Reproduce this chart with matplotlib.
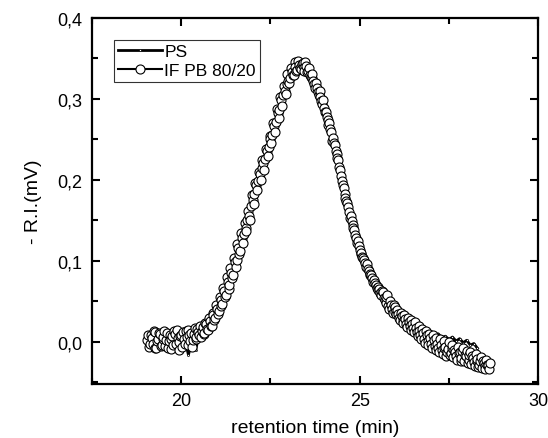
import matplotlib
matplotlib.use('Agg')
import matplotlib.pyplot as plt
from matplotlib.ticker import FuncFormatter, MultipleLocator

plt.rcParams['font.family'] = ['Liberation Sans', 'DejaVu Sans']

# PS trace (retention time in min, -R.I. in mV)
ps_time = [19.1, 19.2, 19.3, 19.4, 19.5, 19.6, 19.7, 19.8, 19.9, 20.0,
           20.1, 20.2, 20.3, 20.4, 20.5, 20.6, 20.7, 20.8, 20.9, 21.0,
           21.1, 21.2, 21.3, 21.4, 21.5, 21.6, 21.7, 21.8, 21.9, 22.0,
           22.1, 22.2, 22.3, 22.4, 22.5, 22.6, 22.7, 22.8, 22.9, 23.0,
           23.1, 23.2, 23.3, 23.4, 23.5, 23.6, 23.7, 23.8, 23.9, 24.0,
           24.1, 24.2, 24.3, 24.4, 24.5, 24.6, 24.7, 24.8, 24.9, 25.0,
           25.1, 25.2, 25.3, 25.4, 25.5, 25.6, 25.7, 25.8, 25.9, 26.0,
           26.1, 26.2, 26.3, 26.4, 26.5, 26.6, 26.7, 26.8, 26.9, 27.0,
           27.1, 27.2, 27.3, 27.4, 27.5, 27.6, 27.7, 27.8, 27.9, 28.0,
           28.1, 28.2, 28.3]
ps_ri = [0.000, -0.004, 0.002, -0.006, 0.003, -0.002, 0.004, -0.003, 0.002, -0.005,
         0.003, -0.016, 0.000, -0.010, 0.008, 0.012, 0.018, 0.024, 0.031, 0.040,
         0.050, 0.061, 0.073, 0.086, 0.099, 0.113, 0.127, 0.143, 0.160, 0.177,
         0.193, 0.207, 0.222, 0.237, 0.251, 0.266, 0.282, 0.298, 0.312, 0.322,
         0.330, 0.336, 0.339, 0.340, 0.337, 0.331, 0.323, 0.313, 0.302, 0.290,
         0.275, 0.258, 0.238, 0.217, 0.197, 0.178, 0.160, 0.144, 0.129, 0.116,
         0.105, 0.096, 0.087, 0.079, 0.071, 0.064, 0.058, 0.054, 0.048, 0.042,
         0.037, 0.033, 0.030, 0.026, 0.024, 0.021, 0.017, 0.015, 0.011, 0.012,
         0.008, 0.010, 0.005, 0.007, 0.003, 0.006, 0.001, 0.004, -0.001, 0.002,
         -0.004, -0.002, -0.008]

# IF PB 80/20 trace, first set of readings
if_time_a = [19.05, 19.10, 19.15, 19.20, 19.25, 19.30, 19.35, 19.40, 19.45, 19.50,
             19.55, 19.60, 19.65, 19.70, 19.75, 19.80, 19.85, 19.90, 19.95, 20.00,
             20.05, 20.10, 20.15, 20.20, 20.25, 20.30, 20.35, 20.40, 20.45, 20.50,
             20.55, 20.60, 20.65, 20.70, 20.75, 20.80, 20.85, 20.90, 20.95, 21.00,
             21.05, 21.10, 21.15, 21.20, 21.25, 21.30, 21.35, 21.40, 21.45, 21.50,
             21.55, 21.60, 21.65, 21.70, 21.75, 21.80, 21.85, 21.90, 21.95, 22.00,
             22.05, 22.10, 22.15, 22.20, 22.25, 22.30, 22.35, 22.40, 22.45, 22.50,
             22.55, 22.60, 22.65, 22.70, 22.75, 22.80, 22.85, 22.90, 22.95, 23.00,
             23.05, 23.10, 23.15, 23.20, 23.25, 23.30, 23.35, 23.40, 23.45, 23.50,
             23.55, 23.60, 23.65, 23.70, 23.75, 23.80, 23.85, 23.90, 23.95, 24.00,
             24.05, 24.10, 24.15, 24.20, 24.25, 24.30, 24.35, 24.40, 24.45, 24.50,
             24.55, 24.60, 24.65, 24.70, 24.75, 24.80, 24.85, 24.90, 24.95, 25.00,
             25.05, 25.10, 25.15, 25.20, 25.25, 25.30, 25.35, 25.40, 25.45, 25.50,
             25.55, 25.60, 25.65, 25.70, 25.75, 25.80, 25.85, 25.90, 25.95, 26.00,
             26.05, 26.10, 26.15, 26.20, 26.25, 26.30, 26.35, 26.40, 26.45, 26.50,
             26.55, 26.60, 26.65, 26.70, 26.75, 26.80, 26.85, 26.90, 26.95, 27.00,
             27.05, 27.10, 27.15, 27.20, 27.25, 27.30, 27.35, 27.40, 27.45, 27.50,
             27.55, 27.60, 27.65, 27.70, 27.75, 27.80, 27.85, 27.90, 27.95, 28.00,
             28.05, 28.10, 28.15, 28.20, 28.25, 28.30, 28.35, 28.40, 28.45, 28.50,
             28.55, 28.60, 28.65]
if_ri_a = [0.002, -0.006, 0.008, -0.002, 0.012, -0.008, 0.004, 0.010, -0.004, 0.006,
           -0.005, 0.011, 0.001, -0.009, 0.007, 0.013, -0.003, 0.005, -0.010, 0.008,
           0.012, -0.002, 0.006, 0.015, 0.001, -0.006, 0.010, 0.004, 0.016, 0.009,
           0.006, 0.018, 0.011, 0.022, 0.015, 0.026, 0.020, 0.033, 0.029, 0.041,
           0.038, 0.052, 0.047, 0.063, 0.058, 0.074, 0.070, 0.085, 0.083, 0.099,
           0.101, 0.116, 0.112, 0.128, 0.133, 0.141, 0.150, 0.156, 0.168, 0.175,
           0.183, 0.194, 0.198, 0.207, 0.215, 0.221, 0.226, 0.236, 0.240, 0.251,
           0.255, 0.266, 0.271, 0.283, 0.286, 0.298, 0.305, 0.310, 0.318, 0.322,
           0.326, 0.333, 0.330, 0.339, 0.336, 0.342, 0.337, 0.344, 0.335, 0.340,
           0.334, 0.330, 0.326, 0.322, 0.313, 0.314, 0.305, 0.302, 0.294, 0.289,
           0.284, 0.274, 0.270, 0.259, 0.252, 0.243, 0.232, 0.224, 0.212, 0.198,
           0.190, 0.178, 0.172, 0.160, 0.156, 0.144, 0.138, 0.128, 0.124, 0.113,
           0.110, 0.104, 0.098, 0.096, 0.088, 0.084, 0.079, 0.077, 0.070, 0.068,
           0.065, 0.058, 0.062, 0.052, 0.055, 0.044, 0.050, 0.040, 0.046, 0.037,
           0.039, 0.030, 0.036, 0.026, 0.033, 0.022, 0.030, 0.019, 0.027, 0.017,
           0.024, 0.012, 0.020, 0.008, 0.016, 0.004, 0.013, 0.001, 0.010, -0.002,
           0.008, -0.005, 0.005, -0.008, 0.003, -0.010, 0.001, -0.006, -0.012, 0.000,
           -0.014, -0.004, -0.010, -0.017, -0.006, -0.013, -0.020, -0.008, -0.016, -0.011,
           -0.022, -0.012, -0.018, -0.025, -0.015, -0.021, -0.028, -0.019, -0.024, -0.030,
           -0.022, -0.028, -0.026]

# IF PB 80/20 trace, in-between readings
if_time_b = [19.075, 19.125, 19.175, 19.225, 19.275, 19.325, 19.375, 19.425, 19.475, 19.525,
             19.575, 19.625, 19.675, 19.725, 19.775, 19.825, 19.875, 19.925, 19.975, 20.025,
             20.075, 20.125, 20.175, 20.225, 20.275, 20.325, 20.375, 20.425, 20.475, 20.525,
             20.575, 20.625, 20.675, 20.725, 20.775, 20.825, 20.875, 20.925, 20.975, 21.025,
             21.075, 21.125, 21.175, 21.225, 21.275, 21.325, 21.375, 21.425, 21.475, 21.525,
             21.575, 21.625, 21.675, 21.725, 21.775, 21.825, 21.875, 21.925, 21.975, 22.025,
             22.075, 22.125, 22.175, 22.225, 22.275, 22.325, 22.375, 22.425, 22.475, 22.525,
             22.575, 22.625, 22.675, 22.725, 22.775, 22.825, 22.875, 22.925, 22.975, 23.025,
             23.075, 23.125, 23.175, 23.225, 23.275, 23.325, 23.375, 23.425, 23.475, 23.525,
             23.575, 23.625, 23.675, 23.725, 23.775, 23.825, 23.875, 23.925, 23.975, 24.025,
             24.075, 24.125, 24.175, 24.225, 24.275, 24.325, 24.375, 24.425, 24.475, 24.525,
             24.575, 24.625, 24.675, 24.725, 24.775, 24.825, 24.875, 24.925, 24.975, 25.025,
             25.075, 25.125, 25.175, 25.225, 25.275, 25.325, 25.375, 25.425, 25.475, 25.525,
             25.575, 25.625, 25.675, 25.725, 25.775, 25.825, 25.875, 25.925, 25.975, 26.025,
             26.075, 26.125, 26.175, 26.225, 26.275, 26.325, 26.375, 26.425, 26.475, 26.525,
             26.575, 26.625, 26.675, 26.725, 26.775, 26.825, 26.875, 26.925, 26.975, 27.025,
             27.075, 27.125, 27.175, 27.225, 27.275, 27.325, 27.375, 27.425, 27.475, 27.525,
             27.575, 27.625, 27.675, 27.725, 27.775, 27.825, 27.875, 27.925, 27.975, 28.025,
             28.075, 28.125, 28.175, 28.225, 28.275, 28.325, 28.375, 28.425, 28.475, 28.525,
             28.575, 28.625]
if_ri_b = [0.009, -0.003, 0.005, 0.014, -0.007, 0.001, 0.011, -0.005, 0.003, 0.013,
           0.002, -0.008, 0.009, 0.004, -0.004, 0.010, 0.015, 0.000, 0.007, -0.006,
           0.004, 0.014, -0.004, 0.008, 0.011, 0.002, 0.017, 0.006, 0.012, 0.019,
           0.013, 0.010, 0.023, 0.016, 0.030, 0.019, 0.036, 0.027, 0.045, 0.035,
           0.056, 0.044, 0.066, 0.055, 0.080, 0.065, 0.091, 0.079, 0.104, 0.093,
           0.121, 0.108, 0.134, 0.122, 0.147, 0.137, 0.162, 0.150, 0.181, 0.170,
           0.196, 0.187, 0.210, 0.200, 0.224, 0.212, 0.238, 0.229, 0.254, 0.245,
           0.270, 0.259, 0.288, 0.276, 0.302, 0.291, 0.316, 0.306, 0.331, 0.320,
           0.338, 0.329, 0.345, 0.334, 0.347, 0.338, 0.343, 0.339, 0.346, 0.333,
           0.338, 0.327, 0.331, 0.318, 0.320, 0.308, 0.310, 0.297, 0.298, 0.284,
           0.278, 0.268, 0.263, 0.248, 0.246, 0.236, 0.227, 0.216, 0.205, 0.194,
           0.183, 0.174, 0.166, 0.153, 0.149, 0.140, 0.132, 0.122, 0.118, 0.108,
           0.105, 0.101, 0.093, 0.090, 0.083, 0.082, 0.074, 0.073, 0.066, 0.064,
           0.060, 0.063, 0.054, 0.048, 0.058, 0.041, 0.045, 0.036, 0.043, 0.034,
           0.034, 0.027, 0.032, 0.023, 0.028, 0.018, 0.025, 0.015, 0.022, 0.012,
           0.017, 0.007, 0.014, 0.003, 0.011, -0.001, 0.008, -0.004, 0.005, -0.007,
           0.002, -0.010, -0.002, -0.013, -0.004, -0.015, -0.007, -0.018, -0.009, -0.016,
           -0.008, -0.019, -0.012, -0.022, -0.014, -0.024, -0.011, -0.023, -0.017, -0.026,
           -0.016, -0.027, -0.020, -0.030, -0.023, -0.031, -0.024, -0.032, -0.026, -0.033,
           -0.029, -0.033]

# merge both sets of readings in time order
if_pts = sorted(zip(if_time_a + if_time_b, if_ri_a + if_ri_b))
if_time = [p[0] for p in if_pts]
if_ri = [p[1] for p in if_pts]

fig = plt.figure(figsize=(5.48, 4.39), dpi=100)
ax = fig.add_axes([0.168, 0.123, 0.814, 0.834])

ax.plot(ps_time, ps_ri, color='black', lw=2, marker='o', ms=1.5,
        mfc='white', mec='black', mew=0.5, label='PS')
ax.plot(if_time, if_ri, color='black', lw=1.5, marker='o', ms=6.5,
        mfc='white', mec='black', mew=0.8, label='IF PB 80/20')

ax.set_xlim(17.5, 30)
ax.set_ylim(-0.052, 0.4)
ax.xaxis.set_major_locator(MultipleLocator(5))
ax.xaxis.set_minor_locator(MultipleLocator(2.5))
ax.yaxis.set_major_locator(MultipleLocator(0.1))
ax.yaxis.set_minor_locator(MultipleLocator(0.05))
ax.yaxis.set_major_formatter(FuncFormatter(lambda v, p: f'{v:.1f}'.replace('.', ',').replace('-0,0', '0,0')))
ax.xaxis.set_major_formatter(FuncFormatter(lambda v, p: f'{v:.0f}'))

ax.tick_params(which='both', direction='in', top=True, right=True, labelsize=13, width=1.5)
ax.tick_params(which='major', length=6)
ax.tick_params(which='minor', length=4)
ax.tick_params(axis='y', pad=7)
ax.tick_params(axis='x', pad=6)
for s in ax.spines.values():
    s.set_linewidth(1.6)

ax.set_xlabel('retention time (min)', fontsize=14, labelpad=7)
ax.set_ylabel('- R.I.(mV)', fontsize=14, labelpad=11)

leg = ax.legend(loc='upper left', bbox_to_anchor=(0.049, 0.94), fontsize=12.5,
                frameon=True, fancybox=False, edgecolor='black',
                handlelength=2.5, borderpad=0.25, labelspacing=0.2,
                handletextpad=0.15, borderaxespad=0)
leg.get_frame().set_linewidth(0.8)

plt.savefig('out.png', dpi=100)
